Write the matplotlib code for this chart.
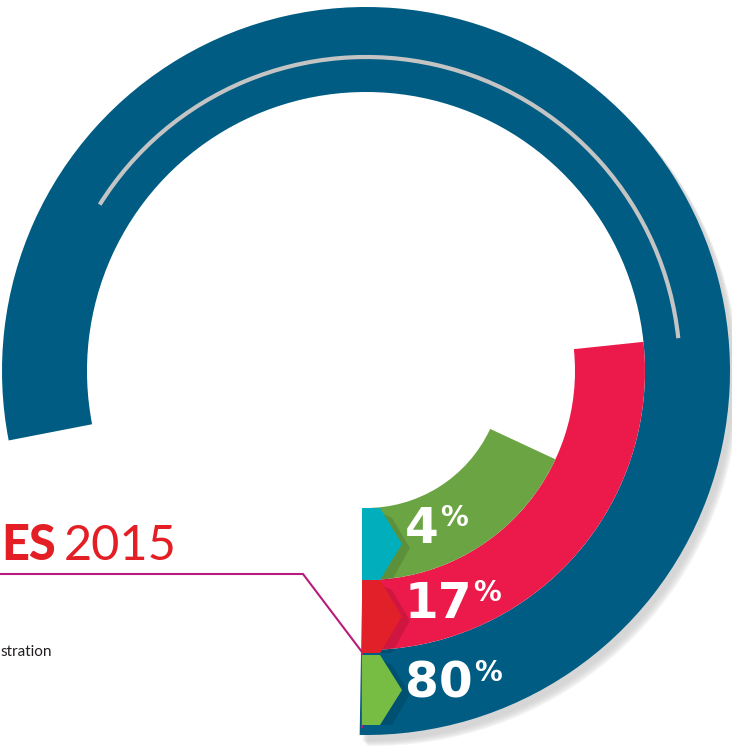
import matplotlib.pyplot as plt
from matplotlib.patches import Wedge, Arc, Polygon

plt.rcParams['font.family'] = ['Lato', 'DejaVu Sans']

# data read from the graphic
values = [80, 17, 4]                         # shown percentages
arc_end_deg = [191, 6, -25]                  # where each ring stops (0 = 3 o'clock)
ring_colors = ['#005C82', '#EC1A4B', '#6BA543']
tag_colors = ['#77BD43', '#E2202A', '#00AFBB']
title_bold = 'ES'
title_year = '2015'
note_text = 'stration'

W, H = 732, 749
cx, cy = 366, H - 371
start_deg = -91
radii = [(279, 364), (209, 279), (137, 209)]  # inner, outer per ring


def py(y):
    return H - y


fig = plt.figure(figsize=(W / 100, H / 100), dpi=100)
ax = fig.add_axes([0, 0, 1, 1])
ax.set_xlim(0, W)
ax.set_ylim(0, H)
ax.axis('off')

# soft drop shadow under the outer ring (only the outer part)
for k in range(6):
    ax.add_patch(Wedge((cx + 3 + k, cy - 5 - k), radii[0][1] + 1, start_deg, 75,
                       width=40, color='#c8c8c8', alpha=0.18, lw=0, zorder=1))

# rings
for (r_in, r_out), end, col in zip(radii, arc_end_deg, ring_colors):
    ax.add_patch(Wedge((cx, cy), r_out, start_deg, end, width=r_out - r_in,
                       color=col, lw=0, zorder=2))

# thin grey guide arc inside the outer ring
ax.add_patch(Arc((cx, cy), 2 * 314, 2 * 314, theta1=6, theta2=148,
                 color='#C4C4C4', lw=3, zorder=3))

# arrow tags with percentages
tag_tops = [655, 580, 508]
tag_bots = [725, 653, 580]
num_base = [698, 618, 543]
for val, top, bot, base, col in zip(values, tag_tops, tag_bots, num_base, tag_colors):
    mid = (top + bot) / 2
    pts = [(362, py(top)), (380, py(top)), (402, py(mid)),
           (380, py(bot)), (362, py(bot))]
    sh = [(380, py(top + 4)), (392, py(top + 10)), (410, py(mid + 4)),
          (392, py(bot)), (380, py(bot))]
    ax.add_patch(Polygon(sh, closed=True, color='black', alpha=0.12, lw=0, zorder=4))
    ax.add_patch(Polygon(pts, closed=True, color=col, lw=0, zorder=5))
    t = ax.text(405, py(base), str(val), color='white', fontsize=35,
                family='DejaVu Sans', fontweight='bold', ha='left', va='baseline',
                zorder=6)
    fig.canvas.draw()
    bb = t.get_window_extent()
    ax.text(bb.x1 + 1, py(base - 17), '%', color='white', fontsize=20,
            family='DejaVu Sans', fontweight='bold', ha='left', va='baseline',
            zorder=6)

# connector line
line_x = [0, 303, 362, 362]
line_y = [574, 574, 652, 727]
ax.plot(line_x, [py(v) for v in line_y], color='#B71C7C', lw=1.5, zorder=3,
        solid_joinstyle='miter')

# headline fragment
ax.text(1, py(560), title_bold, color='#E31E24', fontsize=35, fontweight='black',
        ha='left', va='baseline')
ax.text(64, py(560), title_year, color='#E31E24', fontsize=35, fontweight='normal',
        ha='left', va='baseline')
ax.text(0, py(652), note_text, color='#231F20', fontsize=11, ha='left', va='center')

fig.savefig('out.png', dpi=100)
